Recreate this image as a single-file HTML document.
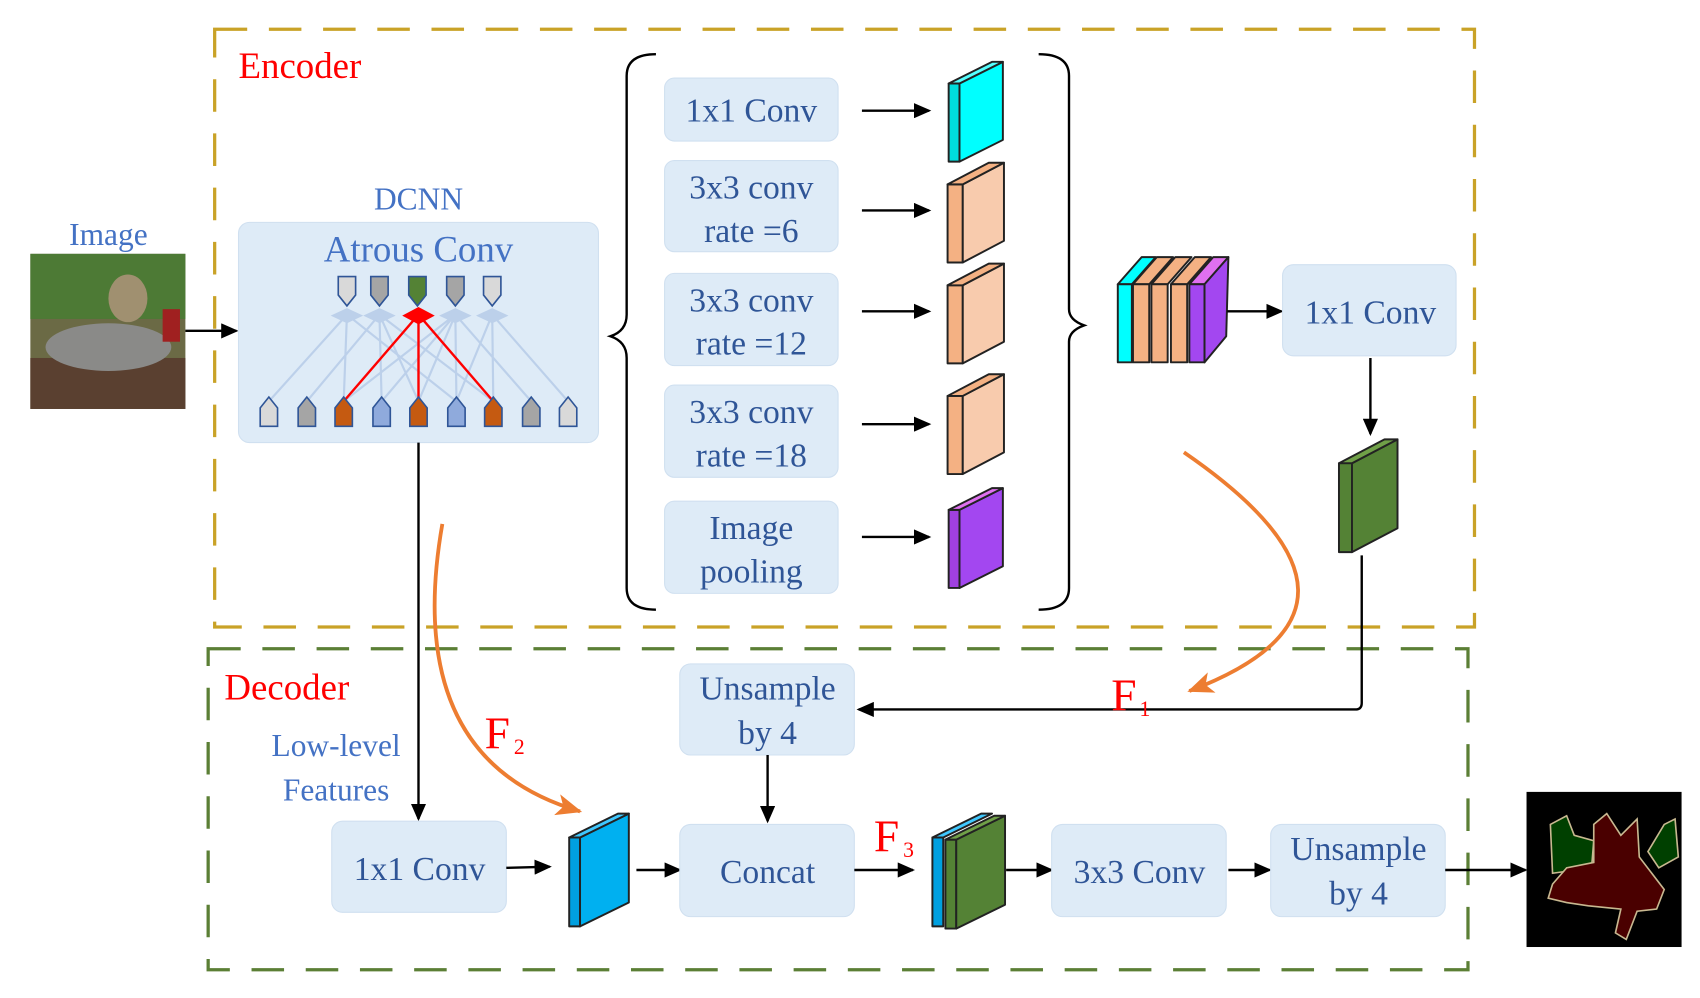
<!DOCTYPE html>
<html><head><meta charset="utf-8"><style>
html,body{margin:0;padding:0;background:#fff;}
svg{display:block;}
text{font-family:"Liberation Serif",serif;}
.bt{fill:#2f5597;font-size:31px;text-anchor:middle;}
.box{fill:#deebf7;stroke:#d0e0f0;stroke-width:1;}
.ln{stroke:#000;stroke-width:2.2;fill:none;}
.blk{stroke:#222;stroke-width:1.8;stroke-linejoin:round;}
</style></head><body>
<svg width="1700" height="998" viewBox="0 0 1568 920" preserveAspectRatio="none" xmlns="http://www.w3.org/2000/svg">
<defs>
<marker id="ah2" markerWidth="16" markerHeight="14" refX="14" refY="7" orient="auto" markerUnits="userSpaceOnUse"><path d="M0,0 L16,7 L0,14 z" fill="#000"/></marker>
<marker id="ao" markerWidth="26" markerHeight="20" refX="22" refY="10" orient="auto" markerUnits="userSpaceOnUse"><path d="M0,0 L24,10 L0,20 L6,10 z" fill="#ed7d31"/></marker>
</defs>
<rect x="198" y="27" width="1162" height="551" fill="none" stroke="#c9a227" stroke-width="3" stroke-dasharray="30,20"/>
<rect x="192" y="598" width="1162" height="296" fill="none" stroke="#5b7f35" stroke-width="3" stroke-dasharray="30,20"/>
<text x="220" y="72" fill="#ff0000" font-size="34">Encoder</text>
<text x="207" y="645" fill="#ff0000" font-size="34">Decoder</text>

<text x="100" y="226" fill="#4472c4" font-size="29" text-anchor="middle">Image</text>
<rect x="28" y="234" width="143" height="143" fill="#6b6a45"/>
<rect x="28" y="234" width="143" height="60" fill="#4d7a35"/>
<rect x="28" y="330" width="143" height="47" fill="#5a4030"/>
<ellipse cx="100" cy="320" rx="58" ry="22" fill="#8a8a88"/>
<ellipse cx="118" cy="275" rx="18" ry="22" fill="#a09070"/>
<rect x="150" y="285" width="16" height="30" fill="#a02020"/>
<line x1="171" y1="305" x2="218" y2="305" class="ln" marker-end="url(#ah2)"/>

<text x="386" y="193" fill="#4472c4" font-size="29" text-anchor="middle">DCNN</text>
<rect x="220" y="205" width="332" height="203" rx="10" class="box"/>
<text x="386" y="241" fill="#4472c4" font-size="34" text-anchor="middle">Atrous Conv</text>
<g stroke="#bcd0ea" stroke-width="2" fill="none">
<path d="M248,370 L320,290 M283,370 L350,290 M317,370 L320,290 M352,370 L350,290 M352,370 L420,290 M386,370 L350,290 M386,370 L420,290 M421,370 L420,290 M421,370 L454,290 M421,370 L320,290 M455,370 L454,290 M490,370 L420,290 M524,370 L454,290 M455,370 L350,290 M317,370 L420,290"/>
</g>
<g fill="#bcd0ea"><path d="M305,291 L320,284 L335,291 L320,298z M335,291 L350,284 L365,291 L350,298z M405,291 L420,284 L435,291 L420,298z M439,291 L454,284 L469,291 L454,298z"/></g>
<g stroke="#ff0000" stroke-width="2.2"><line x1="317" y1="370" x2="386" y2="290"/><line x1="386" y1="370" x2="386" y2="290"/><line x1="455" y1="370" x2="386" y2="290"/></g>
<path d="M371,291 L386,283 L401,291 L386,299z" fill="#ff0000"/>
<g stroke="#2f5597" stroke-width="1.5">
<path d="M312,255 h16 v17 l-8,10 l-8,-10z" fill="#d9d9d9"/>
<path d="M342,255 h16 v17 l-8,10 l-8,-10z" fill="#a5a5a5"/>
<path d="M377,255 h16 v17 l-8,10 l-8,-10z" fill="#548235"/>
<path d="M412,255 h16 v17 l-8,10 l-8,-10z" fill="#a5a5a5"/>
<path d="M446,255 h16 v17 l-8,10 l-8,-10z" fill="#d9d9d9"/>
<path d="M240,393 v-17 l8,-10 l8,10 v17z" fill="#d9d9d9"/>
<path d="M275,393 v-17 l8,-10 l8,10 v17z" fill="#a5a5a5"/>
<path d="M309,393 v-17 l8,-10 l8,10 v17z" fill="#c55a11"/>
<path d="M344,393 v-17 l8,-10 l8,10 v17z" fill="#8faadc"/>
<path d="M378,393 v-17 l8,-10 l8,10 v17z" fill="#c55a11"/>
<path d="M413,393 v-17 l8,-10 l8,10 v17z" fill="#8faadc"/>
<path d="M447,393 v-17 l8,-10 l8,10 v17z" fill="#c55a11"/>
<path d="M482,393 v-17 l8,-10 l8,10 v17z" fill="#a5a5a5"/>
<path d="M516,393 v-17 l8,-10 l8,10 v17z" fill="#d9d9d9"/>
</g>

<path d="M605,50 Q578,50 578,70 L578,290 Q578,305 563,310 Q578,315 578,330 L578,542 Q578,562 605,562" class="ln"/>
<path d="M958,50 Q986,50 986,70 L986,285 Q986,295 1000,300 Q986,305 986,315 L986,542 Q986,562 958,562" class="ln"/>

<rect x="613" y="72" width="160" height="58" rx="9" class="box"/><text x="693" y="112" class="bt">1x1 Conv</text>
<rect x="613" y="148" width="160" height="84" rx="9" class="box"/><text x="693" y="183" class="bt">3x3 conv</text><text x="693" y="223" class="bt">rate =6</text>
<rect x="613" y="252" width="160" height="85" rx="9" class="box"/><text x="693" y="287" class="bt">3x3 conv</text><text x="693" y="327" class="bt">rate =12</text>
<rect x="613" y="355" width="160" height="85" rx="9" class="box"/><text x="693" y="390" class="bt">3x3 conv</text><text x="693" y="430" class="bt">rate =18</text>
<rect x="613" y="462" width="160" height="85" rx="9" class="box"/><text x="693" y="497" class="bt">Image</text><text x="693" y="537" class="bt">pooling</text>
<g class="ln">
<line x1="795" y1="102" x2="857" y2="102" marker-end="url(#ah2)"/>
<line x1="795" y1="194" x2="857" y2="194" marker-end="url(#ah2)"/>
<line x1="795" y1="287" x2="857" y2="287" marker-end="url(#ah2)"/>
<line x1="795" y1="391" x2="857" y2="391" marker-end="url(#ah2)"/>
<line x1="795" y1="495" x2="857" y2="495" marker-end="url(#ah2)"/>
</g>
<g class="blk">
<rect x="875" y="77" width="10" height="72" fill="#00dede"/><path d="M885,77 L925,57 L925,129 L885,149z" fill="#00ffff"/><path d="M875,77 L885,77 L925,57 L915,57z" fill="#5ff"/>
<rect x="874" y="170" width="14" height="72" fill="#f4b183"/><path d="M888,170 L926,150 L926,222 L888,242z" fill="#f8cbad"/><path d="M874,170 L888,170 L926,150 L912,150z" fill="#f4b183"/>
<rect x="874" y="263" width="14" height="72" fill="#f4b183"/><path d="M888,263 L926,243 L926,315 L888,335z" fill="#f8cbad"/><path d="M874,263 L888,263 L926,243 L912,243z" fill="#f4b183"/>
<rect x="874" y="365" width="14" height="72" fill="#f4b183"/><path d="M888,365 L926,345 L926,417 L888,437z" fill="#f8cbad"/><path d="M874,365 L888,365 L926,345 L912,345z" fill="#f4b183"/>
<rect x="875" y="470" width="10" height="72" fill="#a040e0"/><path d="M885,470 L925,450 L925,522 L885,542z" fill="#a347f0"/><path d="M875,470 L885,470 L925,450 L915,450z" fill="#e070f0"/>
<path d="M1031,262 L1044,262 L1066,237 L1053,237z" fill="#00ffff"/><rect x="1031" y="262" width="13" height="72" fill="#00ffff"/>
<path d="M1045,262 L1060,262 L1082,237 L1067,237z" fill="#f4b183"/><rect x="1045" y="262" width="15" height="72" fill="#f4b183"/>
<path d="M1062,262 L1077,262 L1099,237 L1084,237z" fill="#f4b183"/><rect x="1062" y="262" width="15" height="72" fill="#f4b183"/>
<path d="M1080,262 L1095,262 L1117,237 L1102,237z" fill="#f4b183"/><rect x="1080" y="262" width="15" height="72" fill="#f4b183"/>
<path d="M1097,262 L1111,262 L1133,237 L1119,237z" fill="#e070f0"/><rect x="1097" y="262" width="14" height="72" fill="#a347f0"/>
<path d="M1111,262 L1133,237 L1131,310 L1111,334z" fill="#a347f0"/>
<rect x="1235" y="427" width="12" height="82" fill="#548235"/><path d="M1247,427 L1289,405 L1289,487 L1247,509z" fill="#548235"/><path d="M1235,427 L1247,427 L1289,405 L1277,405z" fill="#70a048"/>
<rect x="525" y="772" width="10" height="82" fill="#00a0e0"/><path d="M535,772 L580,750 L580,832 L535,854z" fill="#00b0f0"/><path d="M525,772 L535,772 L580,750 L570,750z" fill="#40c8ff"/>
<rect x="860" y="772" width="10" height="82" fill="#00a0e0"/><path d="M860,772 L870,772 L915,750 L905,750z" fill="#40c8ff"/>
<rect x="872" y="774" width="10" height="82" fill="#548235"/><path d="M882,774 L927,752 L927,834 L882,856z" fill="#548235"/><path d="M872,774 L882,774 L927,752 L917,752z" fill="#70a048"/>
</g>
<line x1="1132" y1="287" x2="1182" y2="287" class="ln" marker-end="url(#ah2)"/>
<rect x="1183" y="244" width="160" height="84" rx="10" class="box"/><text x="1264" y="298" class="bt">1x1 Conv</text>
<line x1="1264" y1="330" x2="1264" y2="400" class="ln" marker-end="url(#ah2)"/>
<path d="M1256,512 L1256,648 Q1256,654 1250,654 L792,654" class="ln" stroke-width="3" marker-end="url(#ah2)"/>
<path d="M1092,417 Q1300,560 1097,637" fill="none" stroke="#ed7d31" stroke-width="3.5" marker-end="url(#ao)"/>
<text x="1025" y="655" fill="#ff0000" font-size="42">F</text><text x="1051" y="660" fill="#ff0000" font-size="20">1</text>

<rect x="627" y="612" width="161" height="84" rx="10" class="box"/><text x="708" y="645" class="bt">Unsample</text><text x="708" y="686" class="bt">by 4</text>
<line x1="708" y1="696" x2="708" y2="757" class="ln" marker-end="url(#ah2)"/>
<text x="310" y="697" fill="#4472c4" font-size="29" text-anchor="middle">Low-level</text>
<text x="310" y="738" fill="#4472c4" font-size="29" text-anchor="middle">Features</text>
<line x1="386" y1="408" x2="386" y2="755" class="ln" stroke-width="1.8" marker-end="url(#ah2)"/>
<path d="M408,483 Q370,700 535,748" fill="none" stroke="#ed7d31" stroke-width="3.5" marker-end="url(#ao)"/>
<text x="447" y="690" fill="#ff0000" font-size="42">F</text><text x="474" y="695" fill="#ff0000" font-size="20">2</text>
<rect x="306" y="757" width="161" height="84" rx="10" class="box"/><text x="387" y="811" class="bt">1x1 Conv</text>
<line x1="467" y1="800" x2="507" y2="799" class="ln" marker-end="url(#ah2)"/>
<line x1="587" y1="802" x2="627" y2="802" class="ln" marker-end="url(#ah2)"/>
<rect x="627" y="760" width="161" height="85" rx="10" class="box"/><text x="708" y="814" class="bt">Concat</text>
<line x1="788" y1="802" x2="842" y2="802" class="ln" marker-end="url(#ah2)"/>
<text x="806" y="785" fill="#ff0000" font-size="42">F</text><text x="833" y="790" fill="#ff0000" font-size="20">3</text>
<line x1="928" y1="802" x2="970" y2="802" class="ln" marker-end="url(#ah2)"/>
<rect x="970" y="760" width="161" height="85" rx="10" class="box"/><text x="1051" y="814" class="bt">3x3 Conv</text>
<line x1="1133" y1="802" x2="1171" y2="802" class="ln" marker-end="url(#ah2)"/>
<rect x="1172" y="760" width="161" height="85" rx="10" class="box"/><text x="1253" y="793" class="bt">Unsample</text><text x="1253" y="834" class="bt">by 4</text>
<line x1="1333" y1="802" x2="1407" y2="802" class="ln" marker-end="url(#ah2)"/>
<rect x="1408" y="730" width="143" height="143" fill="#000"/>
<path d="M1430,760 L1445,752 L1452,770 L1470,775 L1468,800 L1432,805 Z" fill="#004000" stroke="#c8b890" stroke-width="1.5"/>
<path d="M1470,760 L1482,750 L1495,770 L1510,755 L1512,790 L1535,820 L1528,838 L1510,840 L1500,866 L1490,860 L1495,838 L1465,835 L1445,832 L1428,828 L1432,815 L1445,800 L1470,795 Z" fill="#4a0000" stroke="#c8b890" stroke-width="1.5"/>
<path d="M1520,785 L1535,760 L1545,755 L1548,790 L1530,800 Z" fill="#004000" stroke="#c8b890" stroke-width="1.5"/>
</svg>
</body></html>
